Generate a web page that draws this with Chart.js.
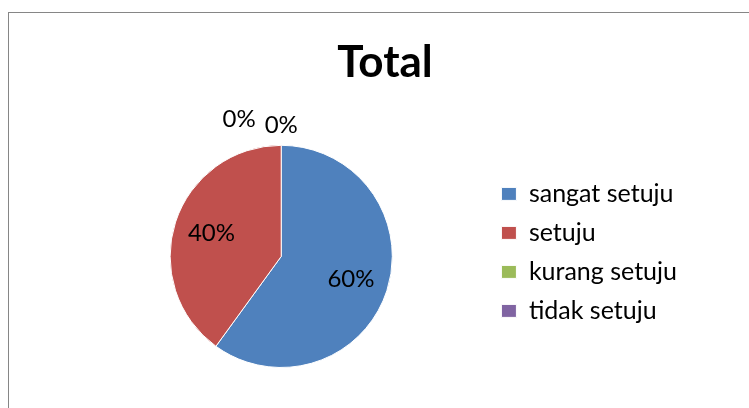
<!DOCTYPE html>
<html>
<head>
<meta charset="utf-8">
<script src="https://cdn.jsdelivr.net/npm/chart.js@4/dist/chart.umd.min.js"></script>
<style>
  html, body { margin: 0; padding: 0; background: #fff; }
  #frame {
    position: absolute; left: 8px; top: 12px; width: 800px; height: 500px;
    border-left: 1px solid #868686; border-top: 1px solid #868686;
  }
  #wrap { position: absolute; left: 0; top: 0; width: 749px; height: 408px; }
</style>
</head>
<body>
<div id="frame"></div>
<div id="wrap"><canvas id="myChart"></canvas></div>
<script>
const categories = ['sangat setuju', 'setuju', 'kurang setuju', 'tidak setuju'];
const percentages = [60, 40, 0, 0];
const colors = ['#4F81BD', '#C0504D', '#9BBB59', '#8064A2'];

const FONT = 'Lato, "Noto Sans", sans-serif';

// percentage labels: inside for real slices, above the rim for empty ones
const pieLabels = {
  id: 'pieLabels',
  afterDatasetsDraw(chart) {
    const ctx = chart.ctx;
    const meta = chart.getDatasetMeta(0);
    ctx.save();
    ctx.font = '24px ' + FONT;
    ctx.fillStyle = '#000';
    ctx.textAlign = 'center';
    ctx.textBaseline = 'middle';
    let stack = 0;
    for (let i = meta.data.length - 1; i >= 0; i--) {
      const p = meta.data[i].getProps(['x', 'y', 'startAngle', 'endAngle', 'outerRadius'], true);
      const mid = (p.startAngle + p.endAngle) / 2;
      const text = percentages[i] + '%';
      if (percentages[i] > 0) {
        const r = p.outerRadius * 0.66;
        ctx.fillText(text, p.x + Math.cos(mid) * r, p.y + Math.sin(mid) * r);
      } else {
        const r = p.outerRadius + 20;
        const w = ctx.measureText(text).width;
        ctx.fillText(text,
          p.x + Math.cos(mid) * r - stack * (w + 9),
          p.y + Math.sin(mid) * r - stack * 6);
        stack++;
      }
    }
    ctx.restore();
  }
};

// small nudges after layout: title a bit right, legend a bit higher
const nudge = {
  id: 'nudge',
  afterLayout(chart) {
    chart.titleBlock.left += 4;
    chart.titleBlock.right += 4;
    chart.legend.top -= 4;
    chart.legend.bottom -= 4;
  }
};

const data = {
  labels: categories,
  datasets: [{
    data: percentages,
    backgroundColor: colors,
    borderColor: '#ffffff',
    borderWidth: 1
  }]
};

const config = {
  type: 'pie',
  data: data,
  plugins: [pieLabels, nudge],
  options: {
    responsive: true,
    maintainAspectRatio: false,
    animation: false,
    layout: { padding: { left: 75, right: 62, top: 0, bottom: 40 } },
    plugins: {
      title: {
        display: true,
        text: 'Total',
        color: '#000',
        font: { family: FONT, size: 44, weight: 'bold' },
        padding: { top: 36, bottom: 56 }
      },
      legend: {
        position: 'right',
        fullSize: false,
        labels: {
          color: '#000',
          font: { family: FONT, size: 25 },
          boxWidth: 15,
          boxHeight: 13,
          padding: 14
        }
      },
      tooltip: { enabled: false }
    }
  }
};

const myChart = new Chart(document.getElementById('myChart'), config);
</script>
</body>
</html>
